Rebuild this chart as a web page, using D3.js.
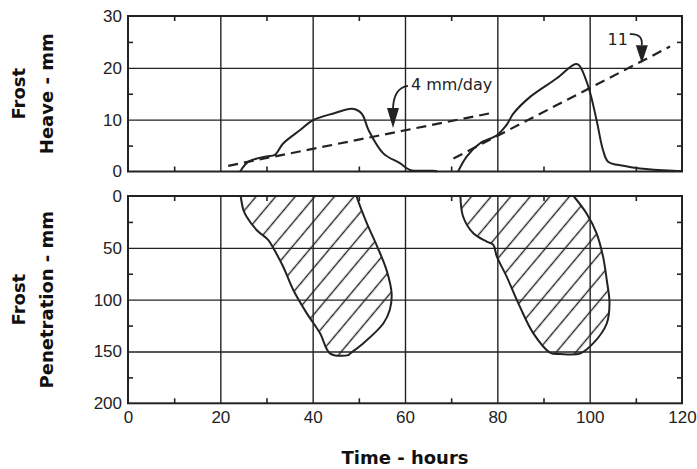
<!DOCTYPE html>
<html>
<head>
<meta charset="utf-8">
<script src="https://cdn.jsdelivr.net/npm/d3@7"></script>
<style>
  body { margin: 0; background: #fff; }
  svg { display: block; font-family: "DejaVu Sans", Verdana, sans-serif; }
</style>
</head>
<body>
<svg id="chart" width="697" height="469"></svg>
<script>
// Frost heave (mm) against time (hours)
const heaveCycle1 = [[24.3,0],[26.1,1.9],[30.0,2.9],[31.8,3.2],[33.6,5.4],[37.3,8.0],[40.1,9.9],[44.5,11.2],[48.6,12.1],[50.6,11.2],[52.1,8.0],[55.3,3.5],[58.9,1.6],[61.1,0.3],[66.1,0.15],[67,0]];
const heaveCycle2 = [[71.5,0],[73.4,2.9],[76.2,5.4],[79.9,7.0],[82.0,9.0],[83.5,11.2],[87.1,14.4],[92.9,18.0],[96.8,20.7],[97.7,20.5],[99.7,16.4],[101.5,9.9],[102.9,4.1],[104.0,1.9],[107.3,1.1],[110.9,0.6],[118.1,0.15],[120,0.1]];

// Dashed heave rate lines
const trend4 = [[21.7,1.1],[78.8,11.3]];
const trend11 = [[70.5,2.5],[117.4,24.1]];

// Frozen zone outlines (time, depth mm)
const frostZone1 = [[24.4,0],[25.0,13.5],[25.7,20],[27.9,33],[30.4,42.5],[31.5,50.5],[33.6,68],[35.8,90.7],[38.7,113],[41.6,132.5],[43.8,152],[47.7,153.5],[48.1,152],[51.0,142],[55.3,123],[56.7,110],[57.1,94],[56.0,71.5],[54.0,49],[51.7,26],[49.9,5.5],[49.5,0]];
const frostZone2 = [[72.0,0],[72.6,20],[74.8,36],[77.7,44],[79.1,47],[79.9,58.5],[82.0,77.6],[84.9,107],[87.8,132.5],[91.4,151],[93.6,152.4],[97.9,152],[100.8,142],[103.7,123],[104.3,103.5],[103.7,81],[102.9,58.5],[101.5,36],[99.3,16.7],[96.5,0]];

// Axis ticks
const timeMajor = [0, 20, 40, 60, 80, 100, 120];
const timeMinor = [10, 30, 50, 70, 90, 110];
const heaveMajor = [0, 10, 20, 30];
const heaveMinor = [5, 15, 25];
const depthMajor = [0, 50, 100, 150, 200];
const depthMinor = [25, 75, 125, 175];

// Annotations: tip of the arrow on each dashed line
const rateLabels = [
  { text: "4 mm/day", t: 57.4, v: 8.4, side: "right" },
  { text: "11", t: 111.3, v: 20.9, side: "left" }
];

const ink = "#222";
const svg = d3.select("#chart");

const x = d3.scaleLinear().domain([0, 120]).range([128, 682]);
const yHeave = d3.scaleLinear().domain([0, 30]).range([171.5, 16]);
const yDepth = d3.scaleLinear().domain([0, 200]).range([196, 403.3]);

// hatch pattern
svg.append("defs").append("pattern")
    .attr("id", "hatch")
    .attr("patternUnits", "userSpaceOnUse")
    .attr("width", 15).attr("height", 15)
    .attr("patternTransform", "rotate(40)")
  .append("line")
    .attr("x1", 7.5).attr("y1", 0)
    .attr("x2", 7.5).attr("y2", 15)
    .attr("stroke", ink)
    .attr("stroke-width", 1.4);

function drawPanel(y, yMajor, yMinor, showX) {
    const [y0, y1] = y.range();
    const top = Math.min(y0, y1), bottom = Math.max(y0, y1);
    const h = bottom - top;
    const w = x.range()[1] - x.range()[0];
    const g = svg.append("g");

    // gridlines
    g.append("g")
        .attr("transform", `translate(0,${bottom})`)
        .call(d3.axisBottom(x).tickValues(timeMajor.slice(1, -1)).tickSize(-h).tickFormat(""))
        .call(s => s.select(".domain").remove())
        .selectAll("line").attr("stroke", ink).attr("stroke-width", 1.4);
    g.append("g")
        .attr("transform", `translate(${x.range()[0]},0)`)
        .call(d3.axisLeft(y).tickValues(yMajor.slice(1, -1)).tickSize(-w).tickFormat(""))
        .call(s => s.select(".domain").remove())
        .selectAll("line").attr("stroke", ink).attr("stroke-width", 1.4);

    // minor ticks on the four sides, pointing inward
    const minorAxes = [
        [d3.axisBottom(x).tickValues(timeMinor), `translate(0,${bottom})`],
        [d3.axisTop(x).tickValues(timeMinor), `translate(0,${top})`],
        [d3.axisLeft(y).tickValues(yMinor), `translate(${x.range()[0]},0)`],
        [d3.axisRight(y).tickValues(yMinor), `translate(${x.range()[1]},0)`]
    ];
    minorAxes.forEach(([ax, tr]) => {
        g.append("g")
            .attr("transform", tr)
            .call(ax.tickSize(-5).tickFormat(""))
            .call(s => s.select(".domain").remove())
            .selectAll("line").attr("stroke", ink).attr("stroke-width", 1.6);
    });

    // y tick labels
    g.append("g")
        .attr("transform", `translate(${x.range()[0]},0)`)
        .call(d3.axisLeft(y).tickValues(yMajor).tickSize(0).tickPadding(6))
        .call(s => s.select(".domain").remove())
        .selectAll("text")
            .attr("fill", ink)
            .style("font-size", "17px");

    if (showX) {
        g.append("g")
            .attr("transform", `translate(0,${bottom})`)
            .call(d3.axisBottom(x).tickValues(timeMajor).tickSize(0).tickPadding(8))
            .call(s => s.select(".domain").remove())
            .selectAll("text")
                .attr("fill", ink)
                .style("font-size", "17px");
    }
    return g;
}

const topPanel = drawPanel(yHeave, heaveMajor, heaveMinor, false);
const botPanel = drawPanel(yDepth, depthMajor, depthMinor, true);

// Heave curves
const heaveLine = d3.line()
    .x(d => x(d[0]))
    .y(d => yHeave(d[1]))
    .curve(d3.curveCatmullRom.alpha(0.5));

[heaveCycle1, heaveCycle2].forEach(c => {
    topPanel.append("path")
        .attr("d", heaveLine(c))
        .attr("fill", "none")
        .attr("stroke", ink)
        .attr("stroke-width", 2);
});

const straight = d3.line().x(d => x(d[0])).y(d => yHeave(d[1]));
[trend4, trend11].forEach(c => {
    topPanel.append("path")
        .attr("d", straight(c))
        .attr("fill", "none")
        .attr("stroke", ink)
        .attr("stroke-width", 2.2)
        .attr("stroke-dasharray", "10,6");
});

// Annotation arrows
rateLabels.forEach(a => {
    const tx = x(a.t), ty = yHeave(a.v);
    const headLen = a.side === "right" ? 20 : 18;
    const by = ty - headLen;
    if (a.side === "right") {
        const ex = tx + 15, ey = by - 22;
        topPanel.append("path")
            .attr("d", `M${tx},${by} Q${tx + 1},${ey + 2} ${ex},${ey}`)
            .attr("fill", "none").attr("stroke", ink).attr("stroke-width", 1.8);
        topPanel.append("text")
            .attr("x", ex + 3).attr("y", ey + 4)
            .attr("fill", ink).style("font-size", "16px")
            .text(a.text);
    } else {
        topPanel.append("path")
            .attr("d", `M${tx},${by} Q${tx + 1},${by - 12} ${tx - 12},${by - 11}`)
            .attr("fill", "none").attr("stroke", ink).attr("stroke-width", 1.8);
        topPanel.append("text")
            .attr("x", tx - 14).attr("y", by)
            .attr("text-anchor", "end")
            .attr("fill", ink).style("font-size", "16px")
            .text(a.text);
    }
    topPanel.append("path")
        .attr("d", `M${tx},${ty} L${tx - 6},${by} L${tx + 6},${by} Z`)
        .attr("fill", ink);
});

// Frost penetration zones
const zoneLine = d3.line()
    .x(d => x(d[0]))
    .y(d => yDepth(d[1]))
    .curve(d3.curveCatmullRom.alpha(0.5));

[frostZone1, frostZone2].forEach(z => {
    botPanel.append("path")
        .attr("d", zoneLine(z) + "Z")
        .attr("fill", "url(#hatch)")
        .attr("stroke", "none");
    botPanel.append("path")
        .attr("d", zoneLine(z))
        .attr("fill", "none")
        .attr("stroke", ink)
        .attr("stroke-width", 2);
});

// Frames
[yHeave, yDepth].forEach(y => {
    const [y0, y1] = y.range();
    svg.append("rect")
        .attr("x", x.range()[0])
        .attr("y", Math.min(y0, y1))
        .attr("width", x.range()[1] - x.range()[0])
        .attr("height", Math.abs(y1 - y0))
        .attr("fill", "none")
        .attr("stroke", ink)
        .attr("stroke-width", 2);
});

// Axis titles
function yTitle(lines, yScale) {
    const cy = d3.mean(yScale.range());
    lines.forEach((txt, i) => {
        svg.append("text")
            .attr("transform", `translate(${25 + i * 28},${cy}) rotate(-90)`)
            .attr("text-anchor", "middle")
            .attr("fill", "#111")
            .style("font-size", "18px")
            .style("font-weight", "bold")
            .text(txt);
    });
}
yTitle(["Frost", "Heave - mm"], yHeave);
yTitle(["Frost", "Penetration - mm"], yDepth);

svg.append("text")
    .attr("x", d3.mean(x.range()))
    .attr("y", 464)
    .attr("text-anchor", "middle")
    .attr("fill", "#111")
    .style("font-size", "18px")
    .style("font-weight", "bold")
    .text("Time - hours");
</script>
</body>
</html>
